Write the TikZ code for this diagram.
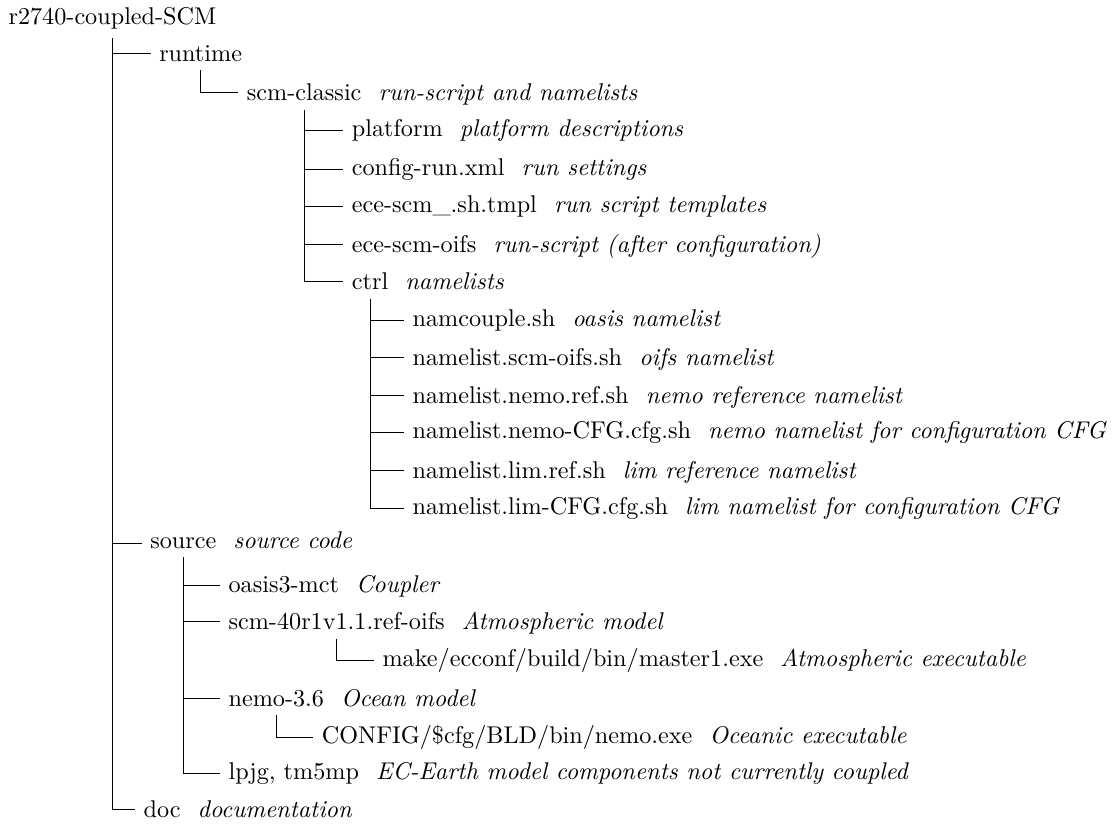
\documentclass[tikz,border=0pt]{standalone}
\usetikzlibrary{positioning}
\tikzset{
	entry/.style={anchor=west},
	remark/.style={font=\itshape},
}
\begin{document}
\begin{tikzpicture}[x=.4132pt,y=-.4132pt]
	\useasboundingbox (0,0) rectangle (1118,825);
	\node[entry] (root) at (0,18.8) {r2740-coupled-SCM};
	\node[entry] (runtime) at (150.7,53.3) {runtime};
	\node[entry] (scmclassic) at (238.3,92.7) {scm-classic};
	\node[remark,base right=0pt of scmclassic] (scmclassic-d) {run-script and namelists};
	\node[entry] (platform) at (343.3,130.7) {platform};
	\node[remark,base right=0pt of platform] (platform-d) {platform descriptions};
	\node[entry] (configrun) at (343.3,169.3) {config-run.xml};
	\node[remark,base right=0pt of configrun] (configrun-d) {run settings};
	\node[entry] (ecetmpl) at (343.3,206.7) {ece-scm\_.sh.tmpl};
	\node[remark,base right=0pt of ecetmpl] (ecetmpl-d) {run script templates};
	\node[entry] (eceoifs) at (343.3,244) {ece-scm-oifs};
	\node[remark,base right=0pt of eceoifs] (eceoifs-d) {run-script (after configuration)};
	\node[entry] (ctrl) at (343.3,281.7) {ctrl};
	\node[remark,base right=0pt of ctrl] (ctrl-d) {namelists};
	\node[entry] (namcouple) at (404,320) {namcouple.sh};
	\node[remark,base right=0pt of namcouple] (namcouple-d) {oasis namelist};
	\node[entry] (nlscm) at (404,357.3) {namelist.scm-oifs.sh};
	\node[remark,base right=0pt of nlscm] (nlscm-d) {oifs namelist};
	\node[entry] (nlnemoref) at (404,395) {namelist.nemo.ref.sh};
	\node[remark,base right=0pt of nlnemoref] (nlnemoref-d) {nemo reference namelist};
	\node[entry] (nlnemocfg) at (404,432.7) {namelist.nemo-CFG.cfg.sh};
	\node[remark,base right=0pt of nlnemocfg] (nlnemocfg-d) {nemo namelist for configuration CFG};
	\node[entry] (nllimref) at (404,470) {namelist.lim.ref.sh};
	\node[remark,base right=0pt of nllimref] (nllimref-d) {lim reference namelist};
	\node[entry] (nllimcfg) at (404,508.3) {namelist.lim-CFG.cfg.sh};
	\node[remark,base right=0pt of nllimcfg] (nllimcfg-d) {lim namelist for configuration CFG};
	\node[entry] (source) at (141.7,543.3) {source};
	\node[remark,base right=0pt of source] (source-d) {source code};
	\node[entry] (oasis) at (220,585) {oasis3-mct};
	\node[remark,base right=0pt of oasis] (oasis-d) {Coupler};
	\node[entry] (scmsrc) at (220,621.7) {scm-40r1v1.1.ref-oifs};
	\node[remark,base right=0pt of scmsrc] (scmsrc-d) {Atmospheric model};
	\node[entry] (master) at (374,660.7) {make/ecconf/build/bin/master1.exe};
	\node[remark,base right=0pt of master] (master-d) {Atmospheric executable};
	\node[entry] (nemo) at (220,698.3) {nemo-3.6};
	\node[remark,base right=0pt of nemo] (nemo-d) {Ocean model};
	\node[entry] (nemoexe) at (313.3,737.3) {CONFIG/\$cfg/BLD/bin/nemo.exe};
	\node[remark,base right=0pt of nemoexe] (nemoexe-d) {Oceanic executable};
	\node[entry] (lpjg) at (220,773.3) {lpjg, tm5mp};
	\node[remark,base right=0pt of lpjg] (lpjg-d) {EC-Earth model components not currently coupled};
	\node[entry] (doc) at (135,809) {doc};
	\node[remark,base right=0pt of doc] (doc-d) {documentation};
	\foreach \c in {runtime,source,doc}
		\draw (root.south) |- (\c.west);
	\draw (runtime.south) |- (scmclassic.west);
	\foreach \c in {platform,configrun,ecetmpl,eceoifs,ctrl}
		\draw (scmclassic.south) |- (\c.west);
	\foreach \c in {namcouple,nlscm,nlnemoref,nlnemocfg,nllimref,nllimcfg}
		\draw (ctrl.south) |- (\c.west);
	\foreach \c in {oasis,scmsrc,nemo,lpjg}
		\draw (source.south) |- (\c.west);
	\draw (scmsrc.south) |- (master.west);
	\draw (nemo.south) |- (nemoexe.west);
\end{tikzpicture}
\end{document}
